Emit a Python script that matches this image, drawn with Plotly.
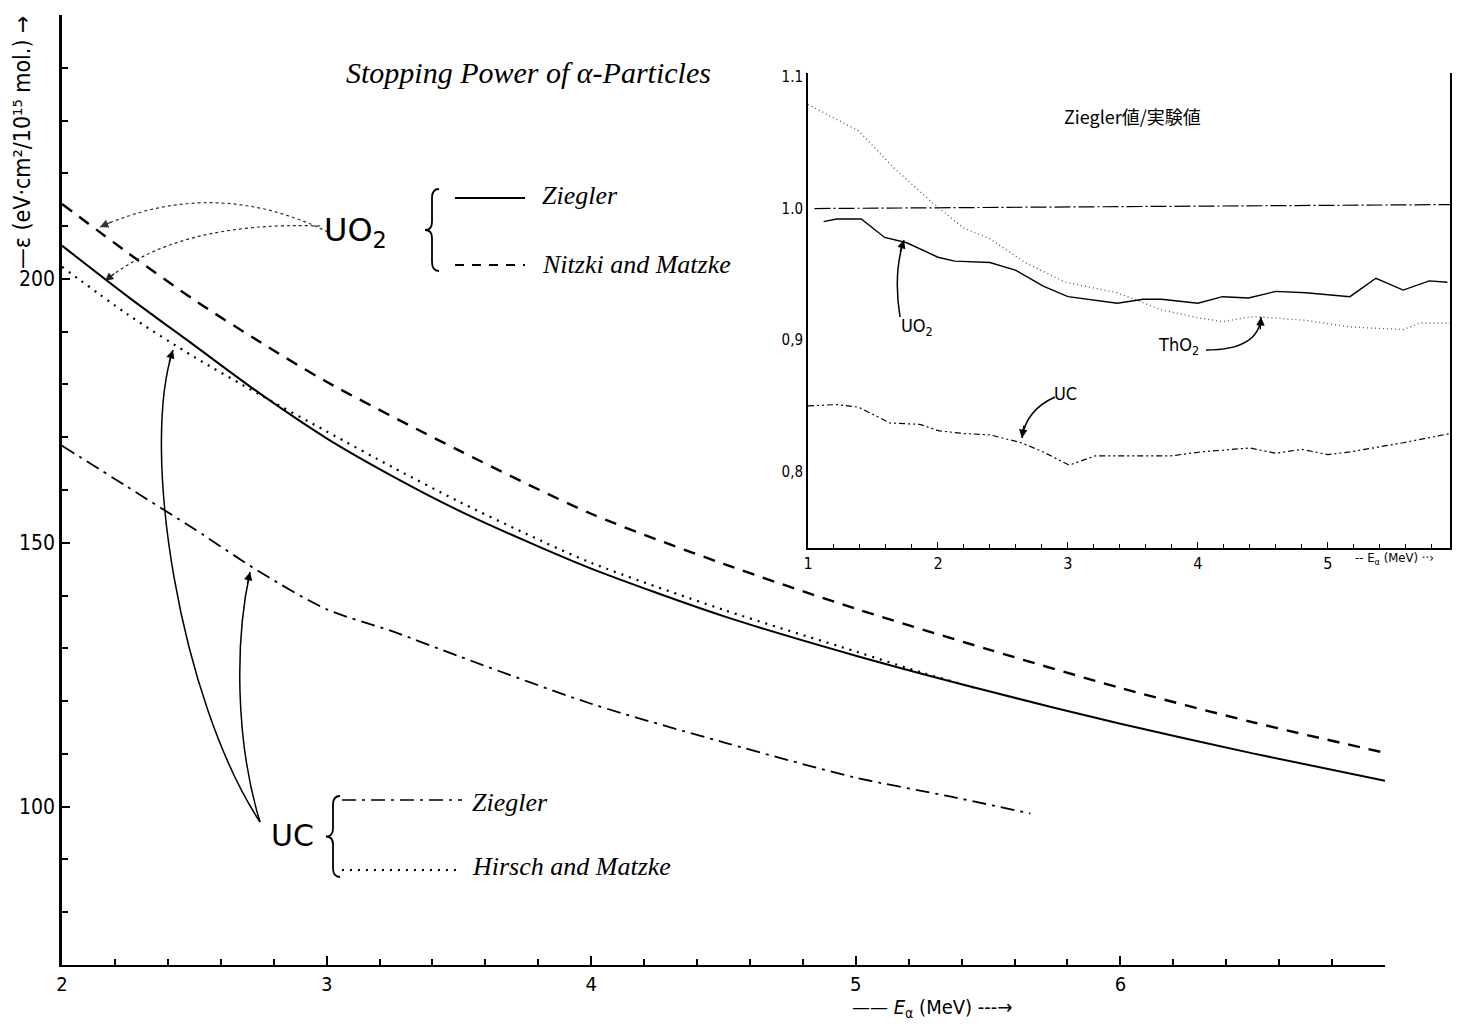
import math
import plotly.graph_objects as go

# ---------------- main chart data ----------------
uo2_ziegler_x = [2.0, 2.25, 2.5, 2.75, 3.0, 3.25, 3.5, 3.75, 4.0, 4.5, 5.0, 5.5, 6.0, 6.5, 7.0]
uo2_ziegler_y = [206.3, 196.6, 187.4, 178.2, 169.8, 162.6, 156.1, 150.4, 145.1, 136.1, 128.6, 121.9, 115.7, 110.1, 104.9]

uo2_nitzki_x = [2.0, 2.25, 2.5, 2.75, 3.0, 3.5, 4.0, 4.5, 5.0, 5.5, 6.0, 6.5, 7.0]
uo2_nitzki_y = [214.2, 204.9, 196.0, 188.0, 180.5, 167.5, 155.5, 146.0, 137.5, 129.8, 122.5, 116.0, 110.2]

uc_hirsch_x = [2.0, 2.25, 2.5, 2.75, 3.0, 3.25, 3.5, 3.75, 4.0, 4.5, 5.0, 5.25, 5.45]
uc_hirsch_y = [202.3, 193.2, 185.2, 178.0, 171.1, 164.3, 157.8, 151.8, 146.2, 137.3, 129.4, 125.4, 122.5]

uc_ziegler_x = [2.0, 2.25, 2.5, 2.75, 3.0, 3.25, 3.5, 4.0, 4.5, 5.0, 5.36, 5.66]
uc_ziegler_y = [168.4, 160.5, 152.6, 144.4, 137.4, 133.2, 128.5, 119.5, 112.2, 105.5, 101.9, 98.7]

main_xticks = [2, 3, 4, 5, 6]
main_yticks = [100, 150, 200]

# ---------------- inset data (Ziegler / experiment) ----------------
ref_x = [1.05, 5.94]
ref_y = [1.0, 1.003]

tho2_x = [1.0, 1.39, 1.66, 1.95, 2.2, 2.4, 2.67, 2.98, 3.38, 3.72, 4.0, 4.19, 4.43, 4.83, 5.17, 5.58, 5.71, 5.94]
tho2_y = [1.079, 1.059, 1.031, 1.005, 0.985, 0.977, 0.959, 0.944, 0.936, 0.923, 0.917, 0.914, 0.918, 0.915, 0.910, 0.908, 0.913, 0.913]

uo2r_x = [1.12, 1.22, 1.41, 1.59, 1.76, 2.0, 2.13, 2.4, 2.6, 2.81, 3.0, 3.38, 3.58, 3.72, 4.0, 4.19, 4.39, 4.6, 4.83, 5.17, 5.37, 5.58, 5.78, 5.92]
uo2r_y = [0.990, 0.992, 0.992, 0.978, 0.974, 0.963, 0.960, 0.959, 0.953, 0.941, 0.933, 0.928, 0.931, 0.931, 0.928, 0.933, 0.932, 0.937, 0.936, 0.933, 0.947, 0.938, 0.945, 0.944]

ucr_x = [1.0, 1.22, 1.39, 1.63, 1.86, 2.01, 2.2, 2.4, 2.64, 2.81, 3.01, 3.21, 3.48, 3.79, 4.02, 4.4, 4.6, 4.8, 5.0, 5.17, 5.58, 5.94]
ucr_y = [0.850, 0.851, 0.849, 0.837, 0.836, 0.831, 0.829, 0.828, 0.822, 0.815, 0.805, 0.812, 0.812, 0.812, 0.815, 0.818, 0.814, 0.817, 0.813, 0.815, 0.822, 0.829]

inset_xticks = [1, 2, 3, 4, 5]
inset_yticks = [0.8, 0.9, 1.0, 1.1]
inset_yticktext = ["0,8", "0,9", "1.0", "1.1"]

# ---------------- layout geometry (page has an 8px body margin) ----------------
W, H = 1451, 1016
ML, MR, MT, MB = 54, 9, 7, 59
PW, PH = W - ML - MR, H - MT - MB
REF_L, REF_B = 62, 965   # plot-area left / bottom in screen pixels


def P(xp, yp):
    return (xp - REF_L) / PW, (REF_B - yp) / PH


hand = "Liberation Serif"
narrow = "DejaVu Sans Condensed, DejaVu Sans"

fig = go.Figure()

fig.add_trace(go.Scatter(x=uo2_ziegler_x, y=uo2_ziegler_y, mode="lines", line=dict(color="black", width=2, shape="spline", smoothing=0.8), showlegend=False))
fig.add_trace(go.Scatter(x=uo2_nitzki_x, y=uo2_nitzki_y, mode="lines", line=dict(color="black", width=2.4, dash="12px,9px", shape="spline", smoothing=0.8), showlegend=False))
fig.add_trace(go.Scatter(x=uc_hirsch_x, y=uc_hirsch_y, mode="lines", line=dict(color="black", width=2.2, dash="2px,6px", shape="spline", smoothing=0.8), showlegend=False))
fig.add_trace(go.Scatter(x=uc_ziegler_x, y=uc_ziegler_y, mode="lines", line=dict(color="black", width=1.8, dash="14px,6px,3px,6px", shape="spline", smoothing=0.8), showlegend=False))

# inset traces
fig.add_trace(go.Scatter(x=ref_x, y=ref_y, xaxis="x2", yaxis="y2", mode="lines", line=dict(color="black", width=1.2, dash="16px,3px,2px,3px"), showlegend=False))
fig.add_trace(go.Scatter(x=tho2_x, y=tho2_y, xaxis="x2", yaxis="y2", mode="lines", line=dict(color="#555555", width=1.3, dash="1px,3px"), showlegend=False))
fig.add_trace(go.Scatter(x=uo2r_x, y=uo2r_y, xaxis="x2", yaxis="y2", mode="lines", line=dict(color="black", width=1.4), showlegend=False))
fig.add_trace(go.Scatter(x=ucr_x, y=ucr_y, xaxis="x2", yaxis="y2", mode="lines", line=dict(color="black", width=1.2, dash="6px,3px,2px,3px,2px,3px"), showlegend=False))

shapes = []
annotations = []


def text(xp, yp, s, size=22, family=hand, anchor="center", angle=0, color="black"):
    x, y = P(xp, yp)
    annotations.append(dict(x=x, y=y, xref="paper", yref="paper", text=s, showarrow=False,
                            xanchor=anchor, yanchor="middle", textangle=angle,
                            font=dict(family=family, size=size, color=color)))


def line(x0, y0, x1, y1, dash="solid", width=1.8):
    a = P(x0, y0)
    b = P(x1, y1)
    shapes.append(dict(type="line", xref="paper", yref="paper", x0=a[0], y0=a[1], x1=b[0], y1=b[1],
                       line=dict(color="black", width=width, dash=dash)))


def fmt(p):
    q = P(*p)
    return "{:.5f},{:.5f}".format(q[0], q[1])


def brace(x, ytop, ybot, width=1.8):
    ym = (ytop + ybot) / 2
    path = ("M " + fmt((x + 7, ytop)) + " Q " + fmt((x, ytop)) + " " + fmt((x, ytop + 9)) +
            " L " + fmt((x, ym - 8)) + " Q " + fmt((x, ym)) + " " + fmt((x - 7, ym)) +
            " Q " + fmt((x, ym)) + " " + fmt((x, ym + 8)) +
            " L " + fmt((x, ybot - 9)) + " Q " + fmt((x, ybot)) + " " + fmt((x + 7, ybot)))
    shapes.append(dict(type="path", xref="paper", yref="paper", path=path,
                       line=dict(color="black", width=width)))


def curve(pts, dash="solid", width=1.4, color="black"):
    if len(pts) == 3:
        path = "M " + fmt(pts[0]) + " Q " + fmt(pts[1]) + " " + fmt(pts[2])
    else:
        path = "M " + fmt(pts[0]) + " C " + fmt(pts[1]) + " " + fmt(pts[2]) + " " + fmt(pts[3])
    shapes.append(dict(type="path", xref="paper", yref="paper", path=path,
                       line=dict(color=color, width=width, dash=dash)))
    (cx, cy), (tx, ty) = pts[-2], pts[-1]
    dx, dy = tx - cx, ty - cy
    n = math.hypot(dx, dy)
    L = 14
    x, y = P(tx, ty)
    annotations.append(dict(x=x, y=y, xref="paper", yref="paper", text="", showarrow=True,
                            ax=-dx / n * L, ay=-dy / n * L, arrowhead=2, arrowsize=1.4,
                            arrowwidth=1.2, arrowcolor=color))


# title
text(528, 72, "<i>Stopping Power of α-Particles</i>", size=30)

# UO2 legend block
text(355, 232, "UO<sub>2</sub>", size=32, family="DejaVu Sans")
brace(432, 189, 271)
line(455, 198, 525, 198)
line(455, 265, 525, 265, dash="9px,8px", width=2)
text(540, 195, "<i>Ziegler</i>", size=26, anchor="left")
text(540, 264, "<i>Nitzki and Matzke</i>", size=26, anchor="left")

# UC legend block
text(292, 835, "UC", size=30, family="DejaVu Sans")
brace(333, 796, 877)
line(342, 800, 462, 800, dash="14px,6px,3px,6px", width=1.6)
line(342, 870, 462, 870, dash="2px,6px", width=2)
text(470, 802, "<i>Ziegler</i>", size=26, anchor="left")
text(470, 866, "<i>Hirsch and Matzke</i>", size=26, anchor="left")

# curved arrows in main chart
curve([(328, 232), (214, 176), (100, 227)], dash="dot", width=1.2, color="#333333")
curve([(320, 226), (178, 221), (105, 281)], dash="dot", width=1.2, color="#222222")
curve([(260, 822), (180, 700), (140, 450), (173, 350)], width=1.5)
curve([(260, 822), (235, 740), (235, 640), (250, 572)], width=1.5)

# inset annotations
text(1132, 116, "Ziegler値/実験値", size=18, family="Noto Sans CJK JP")
text(917, 327, "UO<sub>2</sub>", size=18, family=narrow)
text(1178, 346, "ThO<sub>2</sub>", size=18, family=narrow)
text(1065, 393, "UC", size=18, family=narrow)
curve([(900, 317), (893, 273), (904, 240)], width=1.5)
curve([(1206, 350), (1259, 350), (1261, 317)], width=1.5)
curve([(1055, 397), (1026, 410), (1022, 438)], width=1.5)
text(1394, 558, "-- E<sub>α</sub> (MeV) ··›", size=13, family=narrow)

# axis titles
text(932, 1008, "—— <i>E</i><sub>α</sub> (MeV) ---→", size=20, family=narrow)
text(22, 143, "—ε (eV·cm²/10¹⁵ mol.) →", size=23, family=narrow, angle=-90)

fig.update_layout(
    width=W, height=H,
    margin=dict(l=ML, r=MR, t=MT, b=MB),
    paper_bgcolor="white", plot_bgcolor="white",
    shapes=shapes, annotations=annotations,
    xaxis=dict(domain=[0, (1385 - REF_L) / PW], range=[2, 7], showline=True, linewidth=2, linecolor="black",
               ticks="inside", ticklen=9, tickwidth=1.5, tickcolor="black", tickvals=main_xticks,
               minor=dict(dtick=0.2, tick0=2, ticks="inside", ticklen=6, tickcolor="black"),
               showgrid=False, zeroline=False, automargin=False,
               tickfont=dict(family=narrow, size=20, color="black")),
    yaxis=dict(domain=[0, 1], range=[70, 250], showline=True, linewidth=2.5, linecolor="black",
               ticks="inside", ticklen=8, tickwidth=1.5, tickcolor="black", tickvals=main_yticks,
               minor=dict(dtick=10, tick0=0, ticks="inside", ticklen=6, tickcolor="black"),
               showgrid=False, zeroline=False, automargin=False,
               tickfont=dict(family=narrow, size=21, color="black")),
    xaxis2=dict(domain=[(808 - REF_L) / PW, 1.0], anchor="y2", range=[1, 5.94], showline=True, linewidth=2,
                linecolor="black", ticks="inside", ticklen=6, tickcolor="black", tickvals=inset_xticks,
                minor=dict(dtick=0.2, tick0=1, ticks="inside", ticklen=4, tickcolor="black"),
                showgrid=False, zeroline=False, automargin=False,
                tickfont=dict(family=narrow, size=16, color="black")),
    yaxis2=dict(domain=[(REF_B - 548) / PH, (REF_B - 73) / PH], anchor="x2", range=[0.742, 1.103],
                showline=True, linewidth=2, linecolor="black", mirror=True, ticks="",
                tickvals=inset_yticks, ticktext=inset_yticktext, automargin=False,
                showgrid=False, zeroline=False, tickfont=dict(family=narrow, size=15, color="black")),
)

fig.write_html("out.html")
